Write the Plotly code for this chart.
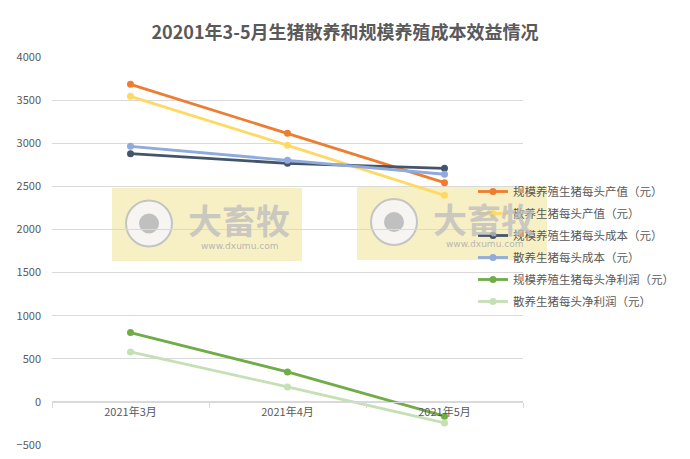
import plotly.graph_objects as go

categories = ["2021年3月", "2021年4月", "2021年5月"]
series_names = [
    "规模养殖生猪每头产值（元）",
    "散养生猪每头产值（元）",
    "规模养殖生猪每头成本（元）",
    "散养生猪每头成本（元）",
    "规模养殖生猪每头净利润（元）",
    "散养生猪每头净利润（元）",
]
scale_value = [3683, 3115, 2543]
free_value = [3544, 2976, 2396]
scale_cost = [2879, 2767, 2709]
free_cost = [2964, 2802, 2640]
scale_profit = [804, 348, -166]
free_profit = [580, 174, -244]
series_values = [scale_value, free_value, scale_cost, free_cost, scale_profit, free_profit]
colors = ["#ED7D31", "#FFD966", "#44546A", "#8FAADC", "#70AD47", "#C5E0B4"]
y_ticks = [-500, 0, 500, 1000, 1500, 2000, 2500, 3000, 3500, 4000]

W, H = 690, 459
L, R, T, B = 52, 523, 57, 445
FONT = "Noto Sans CJK SC"
GREY = "#595959"

def px(x):
    return (x - L) / (R - L)

def py(y):
    return (B - y) / (B - T)

fig = go.Figure()
for i, (name, vals, c) in enumerate(zip(series_names, series_values, colors)):
    fig.add_trace(go.Scatter(
        x=categories, y=vals, name=name, mode="lines+markers",
        line=dict(color=c, width=2.8), marker=dict(color=c, size=7),
        legendgroup=f"g{i}",
    ))

shapes = []
annotations = []
for (x0, y0, x1, y1) in [(112, 188, 302, 261), (357, 186, 547, 260)]:
    shapes.append(dict(type="rect", xref="paper", yref="paper",
                       x0=px(x0), x1=px(x1), y0=py(y1), y1=py(y0),
                       fillcolor="rgba(240,228,150,0.55)", line=dict(width=0), layer="below"))
    cx, cy = x0 + 37, (y0 + y1) / 2 - 1
    shapes.append(dict(type="circle", xref="paper", yref="paper",
                       x0=px(cx - 23), x1=px(cx + 23), y0=py(cy + 23), y1=py(cy - 23),
                       fillcolor="rgba(245,245,245,0.9)", line=dict(color="#c4c4c4", width=2), layer="below"))
    shapes.append(dict(type="circle", xref="paper", yref="paper",
                       x0=px(cx - 10), x1=px(cx + 10), y0=py(cy + 10), y1=py(cy - 10),
                       fillcolor="#c0c0c0", line=dict(width=0), layer="below"))
    annotations.append(dict(text="<b>大畜牧</b>", xref="paper", yref="paper",
                            x=px(x0 + 127), y=py(cy - 4), showarrow=False,
                            xanchor="center", yanchor="middle",
                            font=dict(size=34, color="rgba(190,190,190,0.8)", family=FONT)))
    annotations.append(dict(text="www.dxumu.com", xref="paper", yref="paper",
                            x=px(x0 + 127), y=py(cy + 22), showarrow=False,
                            xanchor="center", yanchor="middle",
                            font=dict(size=9, color="rgba(175,175,175,0.9)", family="DejaVu Sans")))

fig.update_layout(
    width=W, height=H,
    margin=dict(l=L, r=W - R, t=T, b=H - B, autoexpand=False),
    paper_bgcolor="white", plot_bgcolor="white",
    title=dict(text="<b>20201年3-5月生猪散养和规模养殖成本效益情况</b>",
               x=0.5, xanchor="center", y=1 - 33 / H, yanchor="middle",
               font=dict(size=18, color=GREY, family=FONT)),
    font=dict(family=FONT, color=GREY, size=11),
    showlegend=True,
    legend=dict(x=px(473), y=py(177), xanchor="left", yanchor="top",
                traceorder="grouped", tracegroupgap=3,
                bgcolor="rgba(0,0,0,0)", font=dict(size=11.5, color=GREY, family=FONT),
                itemwidth=30),
    shapes=shapes, annotations=annotations,
    xaxis=dict(type="category", anchor="free", position=py(402), automargin=False,
               showgrid=False, showline=True, linecolor="#d9d9d9", linewidth=1,
               ticks="outside", tickson="boundaries", ticklen=5, tickcolor="#d9d9d9",
               tickfont=dict(size=11, color=GREY), range=[-0.5, 2.5], zeroline=False),
    yaxis=dict(range=[-500, 4000], tickvals=y_ticks, showgrid=True, gridcolor="#d9d9d9",
               gridwidth=1, zeroline=False, showline=False, ticks="", automargin=False,
               ticklabelstandoff=10, tickfont=dict(size=11, color=GREY)),
)
fig.write_html("out.html", config={"displayModeBar": False},
               post_script="document.body.style.margin='0px';")
